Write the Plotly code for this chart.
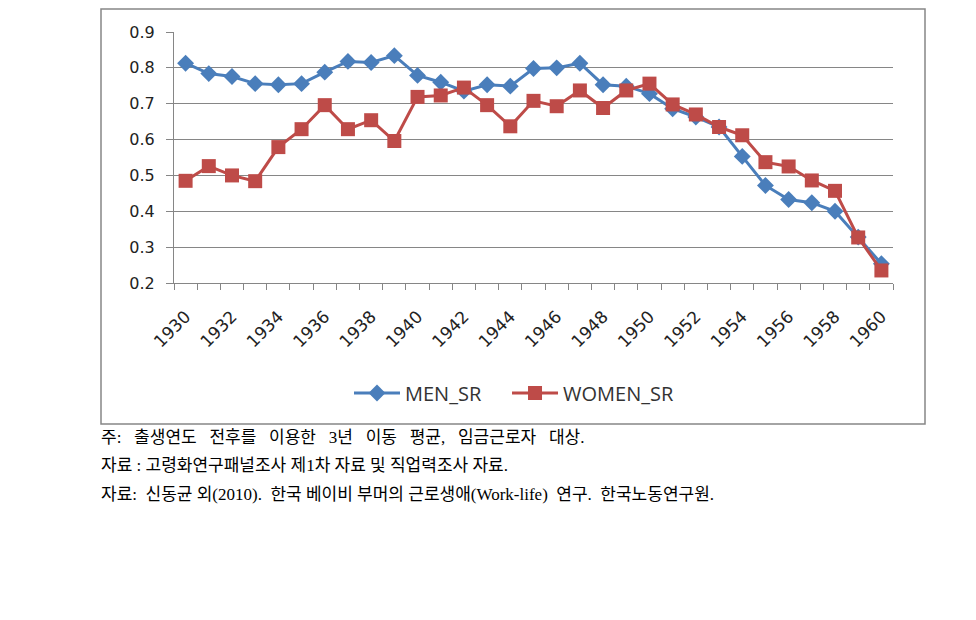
import plotly.graph_objects as go

years = list(range(1930, 1961))
men_sr = [0.813, 0.784, 0.776, 0.756, 0.753, 0.756, 0.788, 0.818, 0.815, 0.834,
          0.779, 0.760, 0.735, 0.753, 0.749, 0.798, 0.800, 0.813, 0.753, 0.749,
          0.728, 0.686, 0.663, 0.635, 0.553, 0.472, 0.433, 0.424, 0.400, 0.328,
          0.254]
women_sr = [0.485, 0.526, 0.500, 0.484, 0.579, 0.629, 0.696, 0.629, 0.654, 0.596,
            0.719, 0.723, 0.745, 0.696, 0.637, 0.708, 0.693, 0.737, 0.688, 0.737,
            0.756, 0.698, 0.670, 0.635, 0.612, 0.537, 0.525, 0.486, 0.457, 0.327,
            0.235]
x_tick_labels = [str(y) for y in range(1930, 1961, 2)]
notes = [
    "주:   출생연도   전후를   이용한   3년   이동   평균,   임금근로자   대상.",
    "자료 : 고령화연구패널조사 제1차 자료 및 직업력조사 자료.",
    "자료:  신동균 외(2010).  한국 베이비 부머의 근로생애(Work-life)  연구.  한국노동연구원.",
]

W, H = 976, 620
L, R, T, B = 174, 893, 32, 283

fig = go.Figure()
fig.add_trace(go.Scatter(
    x=years, y=men_sr, name="MEN_SR" + "\u00a0" * 4, mode="lines+markers",
    line=dict(color="#4A7EBB", width=3),
    marker=dict(symbol="diamond", size=13, color="#4A7EBB"),
))
fig.add_trace(go.Scatter(
    x=years, y=women_sr, name="WOMEN_SR", mode="lines+markers",
    line=dict(color="#BE4B48", width=3),
    marker=dict(symbol="square", size=14, color="#BE4B48"),
))

fig.update_layout(
    width=W, height=H,
    margin=dict(l=L, r=W - R, t=T, b=H - B, pad=0),
    paper_bgcolor="white", plot_bgcolor="white",
    font=dict(family="DejaVu Sans, sans-serif", color="#222"),
    showlegend=True,
    legend=dict(orientation="h", x=(514 - L) / (R - L), xanchor="center",
                y=(B - 393) / (B - T), yref="paper", yanchor="middle",
                font=dict(size=20, color="#333", family="Open Sans, sans-serif"),
                itemwidth=46, tracegroupgap=0),
    xaxis=dict(
        range=[1929.5, 1960.5], tickmode="array",
        tickvals=list(range(1930, 1961, 2)), ticktext=x_tick_labels,
        tickangle=-45, ticks="outside", ticklen=0, ticklabelstandoff=16,
        tickfont=dict(size=17, color="#222"),
        showgrid=False, showline=True, linecolor="#868686", linewidth=1,
        zeroline=False,
        minor=dict(tick0=1929.5, dtick=1, ticks="outside", ticklen=6,
                   tickcolor="#868686", showgrid=False),
    ),
    yaxis=dict(
        range=[0.2, 0.9], dtick=0.1, tickformat=".1f",
        ticks="outside", ticklen=7, tickcolor="#868686", ticklabelstandoff=8,
        tickfont=dict(size=16, color="#222"),
        showgrid=True, gridcolor="#868686", gridwidth=1,
        showline=True, linecolor="#868686", linewidth=1, zeroline=False,
    ),
)

# Outer chart border
fig.add_shape(type="rect", xref="paper", yref="paper",
              x0=(101 - L) / (R - L), x1=(925 - L) / (R - L),
              y0=(B - 424) / (B - T), y1=(B - 9) / (B - T),
              line=dict(color="#868686", width=1.5), fillcolor="rgba(0,0,0,0)",
              layer="below")

for txt, yp in zip(notes, [437, 465, 494]):
    fig.add_annotation(text=txt.replace(" ", "\u00a0"), xref="paper", yref="paper",
                       x=(99 - L) / (R - L), y=(B - yp) / (B - T),
                       xanchor="left", yanchor="middle", showarrow=False,
                       font=dict(size=17, family="Liberation Serif, Noto Sans CJK KR, serif",
                                 color="#000"))

fig.write_html("out.html")
